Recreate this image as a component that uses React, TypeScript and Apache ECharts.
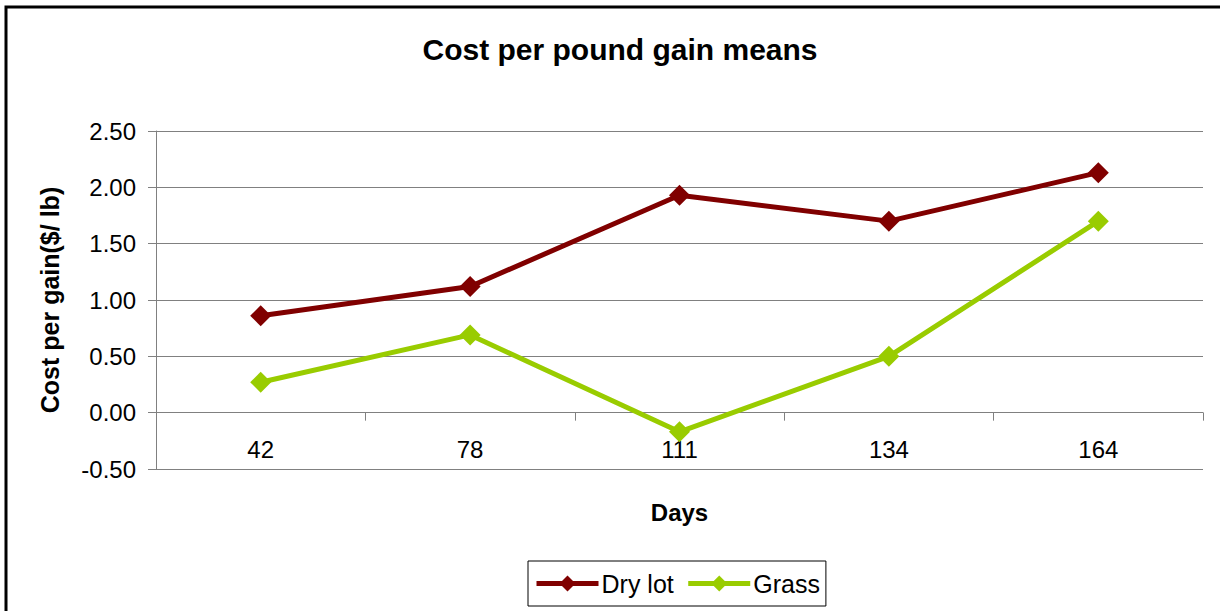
import React, { useEffect, useRef } from "react";
import * as echarts from "echarts";

const categories = ["42", "78", "111", "134", "164"];
const dryLot = [0.86, 1.12, 1.93, 1.70, 2.13];
const grass = [0.27, 0.69, -0.17, 0.50, 1.70];
const yTicks = { min: -0.5, max: 2.5, interval: 0.5 };

const FONT = "Arial, 'Liberation Sans', sans-serif";

export default function App() {
  const ref = useRef<HTMLDivElement>(null);
  useEffect(() => {
    if (!ref.current) return;
    const chart = echarts.init(ref.current, null, { renderer: "svg" });
    chart.setOption({
      animation: false,
      backgroundColor: "#fff",
      textStyle: { fontFamily: FONT },
      title: {
        text: "Cost per pound gain means",
        left: 615,
        textAlign: "center",
        top: 29,
        textStyle: { fontFamily: FONT, fontSize: 30, fontWeight: "bold", color: "#000" },
      },
      graphic: [
        {
          type: "rect",
          shape: { x: 6, y: 7, width: 1400, height: 800 },
          style: { fill: "none", stroke: "#000", lineWidth: 3 },
          silent: true,
        },
      ],
      legend: {
        left: 528,
        top: 561,
        orient: "horizontal",
        itemWidth: 62,
        itemHeight: 20,
        itemGap: 12,
        padding: [10, 6, 10, 6],
        borderColor: "#000",
        borderWidth: 1,
        lineStyle: { width: 5 },
        textStyle: { fontFamily: FONT, fontSize: 25, color: "#000", padding: [0, 0, 0, -2] },
        data: ["Dry lot", "Grass"],
      },
      grid: { left: 156, right: 17, top: 131, bottom: 142, containLabel: false },
      xAxis: {
        type: "category",
        data: categories,
        boundaryGap: true,
        name: "Days",
        nameLocation: "middle",
        nameGap: 31,
        nameTextStyle: { fontFamily: FONT, fontSize: 24, fontWeight: "bold", color: "#000" },
        axisLine: { onZero: true, lineStyle: { color: "#808080", width: 1 } },
        axisTick: { show: true, length: 8, inside: false, lineStyle: { color: "#808080" } },
        axisLabel: { fontFamily: FONT, fontSize: 24, color: "#000", margin: -32 },
        splitLine: { show: false },
      },
      yAxis: {
        type: "value",
        min: yTicks.min,
        max: yTicks.max,
        interval: yTicks.interval,
        name: "Cost per gain($/ lb)",
        nameLocation: "middle",
        nameGap: 94,
        nameTextStyle: { fontFamily: FONT, fontSize: 25, fontWeight: "bold", color: "#000" },
        axisLine: { show: true, lineStyle: { color: "#808080", width: 1 } },
        axisTick: { show: true, length: 8, inside: false, lineStyle: { color: "#808080" } },
        axisLabel: {
          fontFamily: FONT,
          fontSize: 24,
          color: "#000",
          margin: 20,
          formatter: (v: number) => v.toFixed(2),
        },
        splitLine: { show: true, lineStyle: { color: "#808080", width: 1 } },
      },
      series: [
        {
          name: "Dry lot",
          type: "line",
          data: dryLot,
          color: "#800000",
          lineStyle: { width: 5, color: "#800000" },
          itemStyle: { color: "#800000" },
          symbol: "diamond",
          symbolSize: 21,
        },
        {
          name: "Grass",
          type: "line",
          data: grass,
          color: "#99CC00",
          lineStyle: { width: 5, color: "#99CC00" },
          itemStyle: { color: "#99CC00" },
          symbol: "diamond",
          symbolSize: 21,
        },
      ],
    });
    return () => chart.dispose();
  }, []);
  return (
    <div
      ref={ref}
      style={{ position: "fixed", left: 0, top: 0, width: 1220, height: 611 }}
    />
  );
}
